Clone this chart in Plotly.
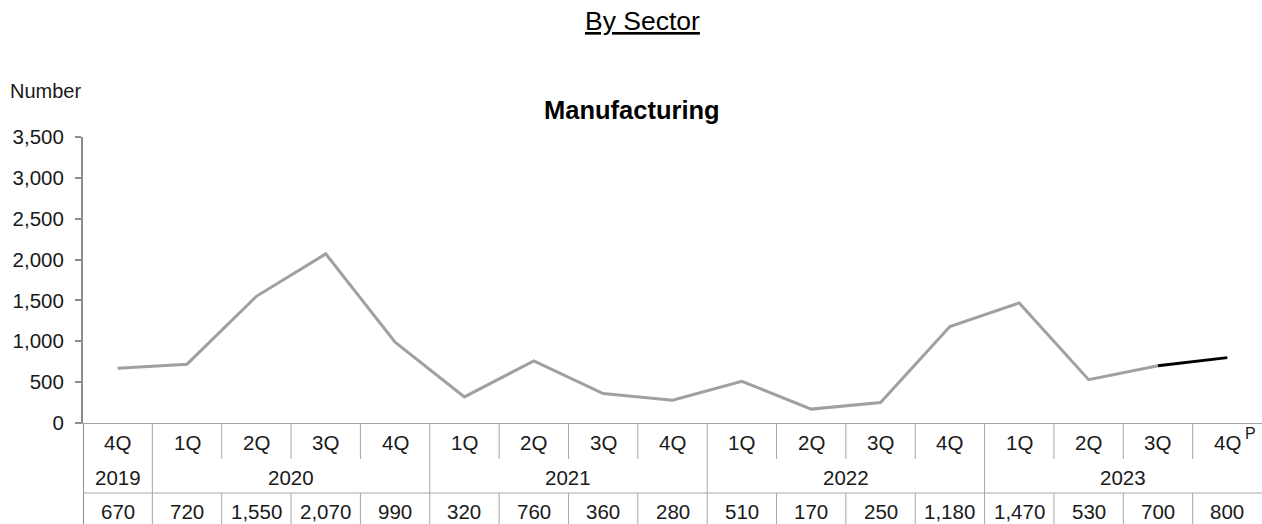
import plotly.graph_objects as go

quarters = ["4Q", "1Q", "2Q", "3Q", "4Q", "1Q", "2Q", "3Q", "4Q",
            "1Q", "2Q", "3Q", "4Q", "1Q", "2Q", "3Q", "4Q"]
years = ["2019", "2020", "2021", "2022", "2023"]
year_spans = [1, 4, 4, 4, 4]
values = [670, 720, 1550, 2070, 990, 320, 760, 360, 280,
          510, 170, 250, 1180, 1470, 530, 700, 800]
yticks = [0, 500, 1000, 1500, 2000, 2500, 3000, 3500]

W, H = 1262, 524
L, R, T, B = 83, 0, 137, 101
PH = H - T - B
FONT = "Liberation Sans, Arial, sans-serif"
GRID = "#A6A6A6"
AX = "#8C8C8C"
TXT = "#1a1a1a"
FS = 20.5

def py(p):
    return (H - B - p) / PH

def pxx(p):
    return (p - L) / (W - L - R)

xs = [i + 0.5 for i in range(len(values))]
n = len(values)

fig = go.Figure()
fig.add_trace(go.Scatter(x=xs[:-1], y=values[:-1], mode="lines",
                         line=dict(color="#A0A0A0", width=3), hoverinfo="skip"))
fig.add_trace(go.Scatter(x=xs[-2:], y=values[-2:], mode="lines",
                         line=dict(color="#000000", width=3), hoverinfo="skip"))

shapes = []
annotations = []
row_top, row_q, row_y, row_bot = 423, 459, 493, 524

bounds = [0]
for s in year_spans:
    bounds.append(bounds[-1] + s)

for i in range(n + 1):
    if i == 0:
        shapes.append(dict(type="line", xref="x", yref="paper", x0=i, x1=i,
                           y0=py(row_top), y1=py(row_bot), line=dict(color=AX, width=2)))
    elif i == n:
        continue
    elif i in bounds:
        shapes.append(dict(type="line", xref="x", yref="paper", x0=i, x1=i,
                           y0=py(row_top), y1=py(row_bot), line=dict(color=GRID, width=1)))
    else:
        shapes.append(dict(type="line", xref="x", yref="paper", x0=i, x1=i,
                           y0=py(row_top), y1=py(row_q), line=dict(color=GRID, width=1)))
        shapes.append(dict(type="line", xref="x", yref="paper", x0=i, x1=i,
                           y0=py(row_y), y1=py(row_bot), line=dict(color=GRID, width=1)))

shapes.append(dict(type="line", xref="x", yref="paper", x0=0, x1=n,
                   y0=py(row_y), y1=py(row_y), line=dict(color=GRID, width=1)))

tf = dict(family=FONT, size=FS, color=TXT)
C = dict(showarrow=False, xanchor="center", yanchor="middle")
for i, q in enumerate(quarters):
    annotations.append(dict(x=xs[i], y=py(442), xref="x", yref="paper",
                            text=q, font=tf, **C))
    annotations.append(dict(x=xs[i], y=py(511), xref="x", yref="paper",
                            text=f"{values[i]:,}", font=tf, **C))
# provisional marker on last quarter
annotations.append(dict(x=xs[-1], y=py(433), xref="x", yref="paper", xshift=23,
                        text="P", font=dict(family=FONT, size=16, color=TXT), **C))
for k, yr in enumerate(years):
    cx = (bounds[k] + bounds[k + 1]) / 2
    annotations.append(dict(x=cx, y=py(477), xref="x", yref="paper",
                            text=yr, font=tf, **C))

annotations.append(dict(x=pxx(642), y=py(21), xref="paper", yref="paper",
                        text="<u>By Sector</u>",
                        font=dict(family=FONT, size=26.5, color="#000000"), **C))
annotations.append(dict(x=pxx(632), y=py(110), xref="paper", yref="paper",
                        text="<b>Manufacturing</b>",
                        font=dict(family=FONT, size=25.5, color="#000000"), **C))
annotations.append(dict(x=pxx(8), y=py(91), xref="paper", yref="paper",
                        xanchor="left", yanchor="middle", showarrow=False, text="Number",
                        font=dict(family=FONT, size=20, color=TXT)))

fig.update_layout(
    width=W, height=H,
    margin=dict(l=L, r=R, t=T, b=B),
    paper_bgcolor="white", plot_bgcolor="white",
    showlegend=False,
    shapes=shapes, annotations=annotations,
    xaxis=dict(range=[0, n], showgrid=False, zeroline=False, showticklabels=False,
               showline=True, linecolor=GRID, linewidth=1, ticks="", fixedrange=True),
    yaxis=dict(range=[0, 3500], tickvals=yticks, ticktext=[f"{v:,}" for v in yticks],
               showgrid=False, zeroline=False, showline=True, linecolor=AX, linewidth=2,
               ticks="outside", ticklen=6, tickcolor=AX, tickwidth=2,
               ticklabelstandoff=7,
               tickfont=dict(family=FONT, size=FS, color=TXT)),
)

fig.write_html("out.html", config={"displayModeBar": False},
               post_script="document.body.style.margin='0';")
